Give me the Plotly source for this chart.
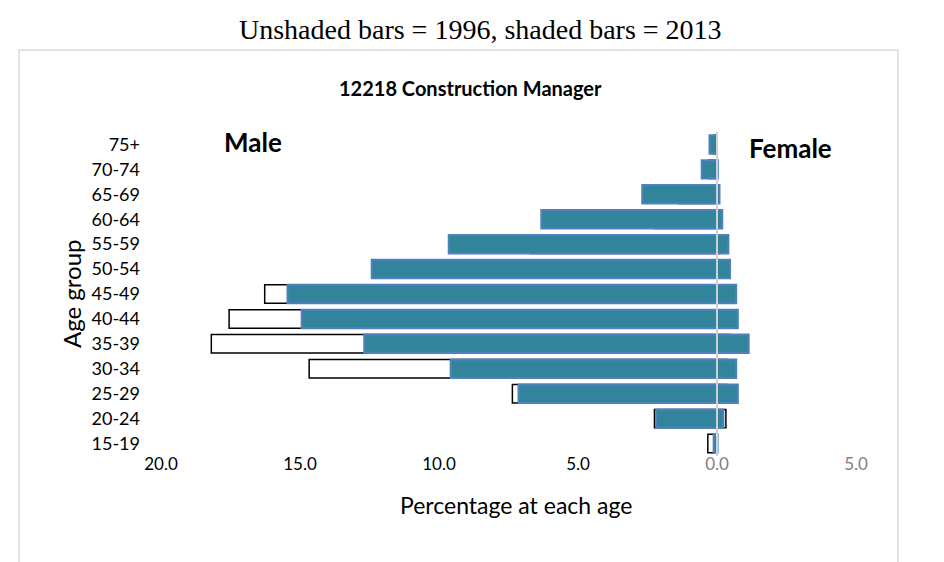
import plotly.graph_objects as go

# ---------------- data ----------------
age_groups = ["15-19", "20-24", "25-29", "30-34", "35-39", "40-44", "45-49",
              "50-54", "55-59", "60-64", "65-69", "70-74", "75+"]
male_1996 = [0.33, 2.25, 7.36, 14.67, 18.19, 17.55, 16.27, 10.56, 6.72, 2.25, 1.40, 0.30, 0.10]
male_2013 = [0.12, 2.19, 7.14, 9.58, 12.69, 14.94, 15.45, 12.42, 9.65, 6.32, 2.69, 0.55, 0.27]
female_1996 = [0.00, 0.32, 0.34, 0.34, 0.45, 0.35, 0.30, 0.15, 0.10, 0.05, 0.00, 0.00, 0.00]
female_2013 = [0.02, 0.23, 0.75, 0.69, 1.14, 0.75, 0.69, 0.47, 0.41, 0.19, 0.09, 0.03, 0.00]

x_tick_values = [-20, -15, -10, -5, 0, 5]
x_tick_labels = ["20.0", "15.0", "10.0", "5.0",
                 "<span style='color:#7f7f7f'>0.0</span>",
                 "<span style='color:#7f7f7f'>5.0</span>"]

TEAL = "#31849B"
BLUE = "#4F81BD"
FONT = "Lato"

fig = go.Figure()

bar_w = 0.74
# 1996 (unshaded)
fig.add_trace(go.Bar(y=age_groups, x=[-v for v in male_1996], orientation="h",
                     marker=dict(color="white", line=dict(color="black", width=1.5)),
                     width=bar_w, name="Male 1996", showlegend=False))
fig.add_trace(go.Bar(y=age_groups, x=female_1996, orientation="h",
                     marker=dict(color="white", line=dict(color="black", width=1.5)),
                     width=bar_w, name="Female 1996", showlegend=False))
# 2013 (shaded)
fig.add_trace(go.Bar(y=age_groups, x=[-v for v in male_2013], orientation="h",
                     marker=dict(color=TEAL, line=dict(color=BLUE, width=2)),
                     width=bar_w, name="Male 2013", showlegend=False))
fig.add_trace(go.Bar(y=age_groups, x=female_2013, orientation="h",
                     marker=dict(color=TEAL, line=dict(color=BLUE, width=2)),
                     width=bar_w, name="Female 2013", showlegend=False))

L, R, T, B = 153, 96, 124, 114
W, H = 944, 562
pw = W - L - R
ph = H - T - B


def px(x):
    return (x - L) / pw


def py(y):
    return (H - B - y) / ph


fig.update_layout(
    width=W, height=H,
    margin=dict(l=L, r=R, t=T, b=B, pad=0),
    barmode="overlay",
    bargap=0.2,
    plot_bgcolor="white", paper_bgcolor="white",
    font=dict(family=FONT, color="black"),
    xaxis=dict(range=[-20, 5], tickvals=x_tick_values, ticktext=x_tick_labels,
               showgrid=False, zeroline=False, showline=False, ticks="",
               tickfont=dict(family=FONT, size=17, color="black"),
               ticklabelstandoff=-4, fixedrange=True),
    yaxis=dict(type="category", categoryorder="array", categoryarray=age_groups,
               range=[-0.5, len(age_groups) - 0.5],
               showgrid=False, zeroline=False, showline=False, ticks="",
               tickfont=dict(family=FONT, size=18, color="black"),
               ticklabelstandoff=20, fixedrange=True),
    shapes=[
        dict(type="rect", xref="paper", yref="paper",
             x0=px(11), x1=px(890), y0=py(620), y1=py(42),
             line=dict(color="#D9D9D9", width=1.5), fillcolor="rgba(0,0,0,0)",
             layer="below"),
        dict(type="line", xref="x", yref="paper", x0=0, x1=0, y0=0, y1=1,
             line=dict(color="#D0D0D0", width=2), layer="above"),
    ],
    annotations=[
        dict(text="Unshaded bars = 1996, shaded bars = 2013", xref="paper", yref="paper",
             x=px(472), y=py(22), showarrow=False, xanchor="center", yanchor="middle",
             font=dict(family="Liberation Serif", size=28, color="black")),
        dict(text="<b>12218 Construction Manager</b>", xref="paper", yref="paper",
             x=px(462), y=py(80), showarrow=False, xanchor="center", yanchor="middle",
             font=dict(family=FONT, size=20, color="black")),
        dict(text="<b>Male</b>", xref="paper", yref="paper",
             x=px(245), y=py(134), showarrow=False, xanchor="center", yanchor="middle",
             font=dict(family=FONT, size=26, color="black")),
        dict(text="<b>Female</b>", xref="paper", yref="paper",
             x=px(782), y=py(140), showarrow=False, xanchor="center", yanchor="middle",
             font=dict(family=FONT, size=26, color="black")),
        dict(text="Age group", xref="paper", yref="paper",
             x=px(63), y=py(286), showarrow=False, xanchor="center", yanchor="middle",
             textangle=-90, font=dict(family=FONT, size=24, color="black")),
        dict(text="Percentage at each age", xref="paper", yref="paper",
             x=px(508), y=py(497), showarrow=False, xanchor="center", yanchor="middle",
             font=dict(family=FONT, size=23, color="black")),
    ],
)

fig.write_html("out.html")
